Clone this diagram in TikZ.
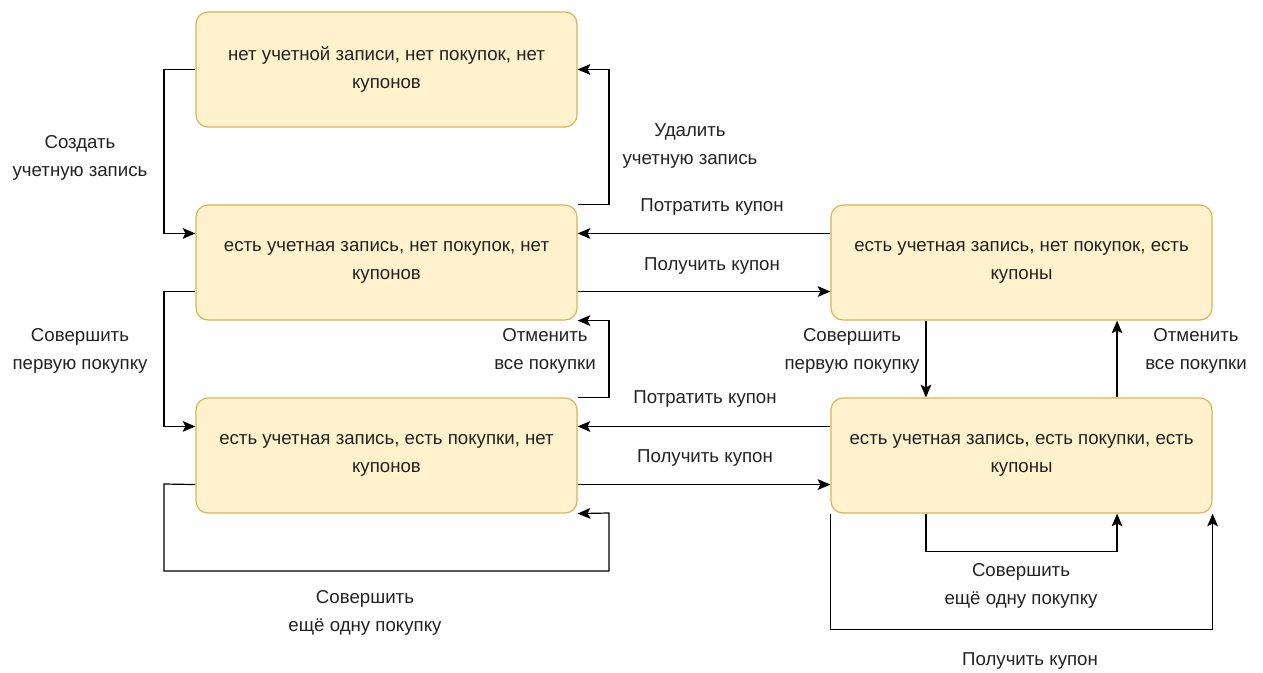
\documentclass[tikz,border=0pt]{standalone}
\usepackage{fontspec}
\setmainfont{Liberation Sans}
\usetikzlibrary{calc,arrows.meta}
\definecolor{boxfill}{HTML}{FFF2CC}
\definecolor{boxline}{HTML}{D6B656}
\definecolor{txt}{HTML}{222222}
\begin{document}
\begin{tikzpicture}[x=0.75pt,y=-0.75pt,
  state/.style={draw=boxline,fill=boxfill,line width=0.9pt,rounded corners=9pt,
    minimum width=285.75pt,minimum height=86.25pt,align=center,
    inner sep=0pt,font=\fontsize{14}{21}\selectfont,text=txt},
  lbl/.style={align=center,font=\fontsize{14}{21}\selectfont,text=txt,inner sep=0pt},
  edge/.style={draw=black,line width=0.9pt,-{Stealth[length=9.5pt,width=8pt,inset=2pt]}}]
\useasboundingbox (0,0) rectangle (1263,673);
% states
\node[state] (A) at (386.5,69.5) {\raisebox{-2pt}{\parbox{280pt}{\centering нет учетной записи, нет покупок, нет\\купонов}}};
\node[state] (B) at (386.5,262.5) {\raisebox{-2pt}{\parbox{280pt}{\centering есть учетная запись, нет покупок, нет\\купонов}}};
\node[state] (C) at (386.5,455.5) {\raisebox{-2pt}{\parbox{280pt}{\centering есть учетная запись, есть покупки, нет\\купонов}}};
\node[state] (D) at (1021.5,262.5) {\raisebox{-2pt}{\parbox{280pt}{\centering есть учетная запись, нет покупок, есть\\купоны}}};
\node[state] (E) at (1021.5,455.5) {\raisebox{-2pt}{\parbox{280pt}{\centering есть учетная запись, есть покупки, есть\\купоны}}};
% anchor points at a quarter and three quarters along each side
\coordinate (Bw1) at ($(B.north west)!0.25!(B.south west)$);
\coordinate (Bw3) at ($(B.north west)!0.75!(B.south west)$);
\coordinate (Be1) at ($(B.north east)!0.25!(B.south east)$);
\coordinate (Be3) at ($(B.north east)!0.75!(B.south east)$);
\coordinate (Cw1) at ($(C.north west)!0.25!(C.south west)$);
\coordinate (Cw3) at ($(C.north west)!0.75!(C.south west)$);
\coordinate (Ce1) at ($(C.north east)!0.25!(C.south east)$);
\coordinate (Ce3) at ($(C.north east)!0.75!(C.south east)$);
\coordinate (Dw1) at ($(D.north west)!0.25!(D.south west)$);
\coordinate (Dw3) at ($(D.north west)!0.75!(D.south west)$);
\coordinate (Ds1) at ($(D.south west)!0.25!(D.south east)$);
\coordinate (Ds3) at ($(D.south west)!0.75!(D.south east)$);
\coordinate (Ew1) at ($(E.north west)!0.25!(E.south west)$);
\coordinate (Ew3) at ($(E.north west)!0.75!(E.south west)$);
\coordinate (En1) at ($(E.north west)!0.25!(E.north east)$);
\coordinate (En3) at ($(E.north west)!0.75!(E.north east)$);
\coordinate (Es1) at ($(E.south west)!0.25!(E.south east)$);
\coordinate (Es3) at ($(E.south west)!0.75!(E.south east)$);
% transitions
\draw[edge] (A.west) -| (164,150) |- (Bw1);
\draw[edge] (B.north east) -| (609,150) |- (A.east);
\draw[edge] (Dw1) -- (Be1);
\draw[edge] (Be3) -- (Dw3);
\draw[edge] (Bw3) -| (164,350) |- (Cw1);
\draw[edge] (C.north east) -| (609,360) |- (B.south east);
\draw[edge] (Ew1) -- (Ce1);
\draw[edge] (Ce3) -- (Ew3);
\draw[edge] (Ds1) -- (En1);
\draw[edge] (En3) -- (Ds3);
\draw[edge] (Cw3) -- (164,484) -- (164,571) -- (609,571) -- (609,513) -- (C.south east);
\draw[edge] (Es1) -- ($(Es1)+(0,38)$) -| (Es3);
\draw[edge] (E.south west) -- ($(E.south west)+(0,116)$) -| (E.south east);
% transition labels
\node[lbl] (l1) at (80,158) {Создать\\учетную запись};
\node[lbl] (l2) at (690,146) {Удалить\\учетную запись};
\node[lbl] (l3) at (712,207) {Потратить купон};
\node[lbl] (l4) at (712,266) {Получить купон};
\node[lbl] (l5) at (80,351) {Совершить\\первую покупку};
\node[lbl] (l6) at (545,351) {Отменить\\все покупки};
\node[lbl] (l7) at (705,399) {Потратить купон};
\node[lbl] (l8) at (705,458) {Получить купон};
\node[lbl] (l9) at (852,351) {Совершить\\первую покупку};
\node[lbl] (l10) at (1196,351) {Отменить\\все покупки};
\node[lbl] (l11) at (365,613) {Совершить\\ещё одну покупку};
\node[lbl] (l12) at (1021,586) {Совершить\\ещё одну покупку};
\node[lbl] (l13) at (1030,661) {Получить купон};
\end{tikzpicture}
\end{document}
